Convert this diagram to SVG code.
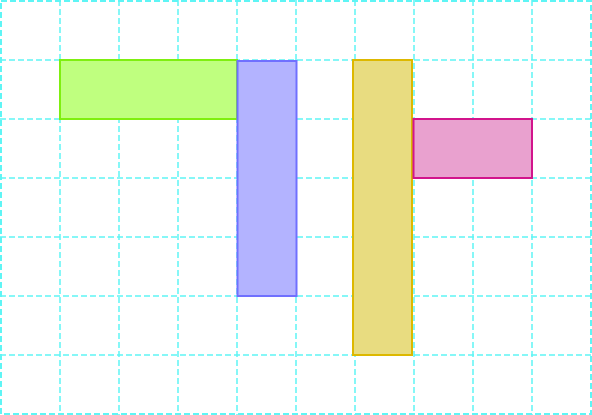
<svg xmlns="http://www.w3.org/2000/svg" width="592" height="415" viewBox="0 0 592 415">
<style>
.grid{stroke:#5ff5f5;stroke-width:1.5;stroke-dasharray:6,3;fill:none}
.box{stroke-width:2}
</style>
<rect width="592" height="415" fill="#ffffff"/>
<g id="grid">
<path class="grid" d="M60,0V415M119,0V415M178,0V415M237,0V415M296,0V415M355,0V415M414,0V415M473,0V415M532,0V415M0,60H592M0,119H592M0,178H592M0,237H592M0,296H592M0,355H592"/>
<rect class="grid" x="1" y="1" width="590" height="413" style="stroke-width:2"/>
</g>
<g id="green"><rect class="box" x="60" y="60" width="177" height="59" fill="#bfff7f" stroke="#7fef10"/></g>
<g id="blue"><rect class="box" x="237.5" y="61" width="59" height="235" fill="#b3b3ff" stroke="#7070ff"/></g>
<g id="yellow"><rect class="box" x="353" y="60" width="59" height="295" fill="#e8dc80" stroke="#ddb800"/></g>
<g id="pink"><rect class="box" x="413.5" y="119" width="118.5" height="59" fill="#e9a1cf" stroke="#d2148c"/></g>
</svg>
